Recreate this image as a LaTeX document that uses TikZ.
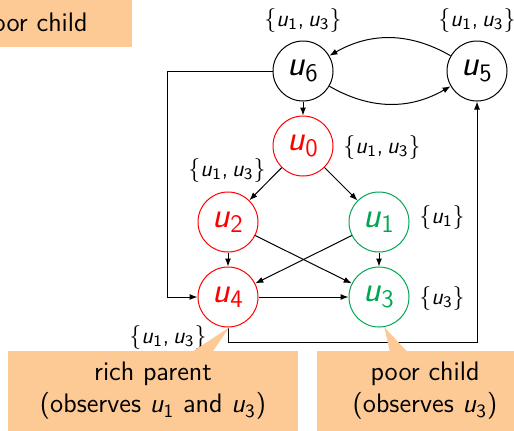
\documentclass[tikz,border=0pt]{standalone}
\usetikzlibrary{arrows.meta}
\renewcommand{\familydefault}{\sfdefault}
\definecolor{mygreen}{RGB}{0,166,81}
\definecolor{boxfill}{RGB}{253,202,150}
\newcommand{\ui}[1]{\textsl{u}\textsubscript{#1}}
\begin{document}
\begin{tikzpicture}[x=0.5pt,y=-0.5pt,
  vnode/.style={circle,draw,line width=0.5pt,minimum size=30pt,inner sep=0pt,font=\fontsize{18}{20}\selectfont},
  rednode/.style={vnode,draw=red,text=red},
  greennode/.style={vnode,draw=mygreen,text=mygreen},
  blacknode/.style={vnode,draw=black},
  edge/.style={-{Latex[length=4pt,width=3pt]},line width=0.5pt},
  lbl/.style={font=\fontsize{11.5}{13}\selectfont,inner sep=0pt},
  callbox/.style={fill=boxfill,minimum height=40pt,align=center,inner sep=0pt,font=\fontsize{13.4}{16}\selectfont}
]
\useasboundingbox (0,0) rectangle (514,430);
\clip (0,0) rectangle (514,430);

% vertices
\node[blacknode] (u6) at (303,71) {\ui{6}};
\node[blacknode] (u5) at (477,71) {\ui{5}};
\node[rednode] (u0) at (303,146) {\ui{0}};
\node[rednode] (u2) at (228,222) {\ui{2}};
\node[greennode] (u1) at (379,222) {\ui{1}};
\node[rednode] (u4) at (228,297) {\ui{4}};
\node[greennode] (u3) at (379,297) {\ui{3}};

% labels
\node[lbl] (l6) at (303,20) {$\{$\ui{1},\,\ui{3}$\}$};
\node[lbl] (l5) at (477,20) {$\{$\ui{1},\,\ui{3}$\}$};
\node[lbl] (l0) at (382,147) {$\{$\ui{1},\,\ui{3}$\}$};
\node[lbl] (l2) at (227,170) {$\{$\ui{1},\,\ui{3}$\}$};
\node[lbl] (l1) at (442,217) {$\{$\ui{1}$\}$};
\node[lbl] (l3) at (442,298) {$\{$\ui{3}$\}$};
\node[lbl] (l4) at (168,337) {$\{$\ui{1},\,\ui{3}$\}$};

% connectors
\coordinate (cl) at (167,297);
\coordinate (cr) at (477,342);
\draw[edge] (u5) to[bend right=30] (u6);
\draw[edge] (u6) to[bend right=30] (u5);
\draw[edge] (u6) -- (u0);
\draw[edge] (u0) -- (u2);
\draw[edge] (u0) -- (u1);
\draw[edge] (u2) -- (u4);
\draw[edge] (u1) -- (u3);
\draw[edge] (u2) -- (u3);
\draw[edge] (u1) -- (u4);
\draw[edge] (u4) -- (u3);
\draw[edge] (u6.west) -| (cl) -- (u4.west);
\draw[edge] (u4.south) |- (cr) -- (u5.south);

% callouts
\node[callbox,minimum width=99pt] (tl) at (33,7) {\strut\\poor child};
\node[callbox,minimum width=145pt] (rich) at (153,391) {rich parent\\(observes \ui{1} and \ui{3})};
\node[callbox,minimum width=108pt] (poor) at (425,391) {poor child\\(observes \ui{3})};
\fill[boxfill] (u4.-88) -- ([xshift=19pt,yshift=-1pt]rich.north) -- ([xshift=29.5pt,yshift=-1pt]rich.north) -- cycle;
\fill[boxfill] (u3.-80) -- ([xshift=-17.5pt,yshift=-1pt]poor.north) -- ([xshift=-8.5pt,yshift=-1pt]poor.north) -- cycle;
\end{tikzpicture}
\end{document}
